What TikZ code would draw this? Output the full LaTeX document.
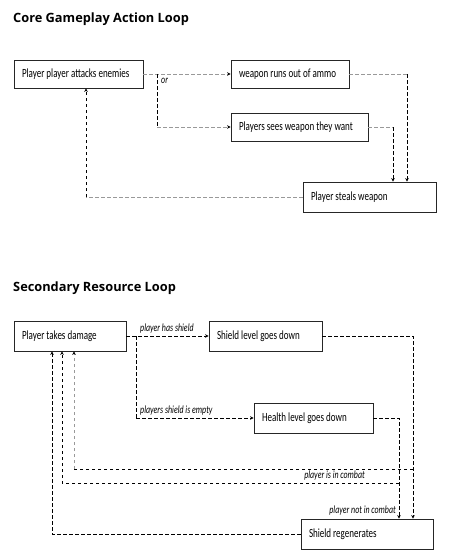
\documentclass[tikz,border=0pt]{standalone}
\usepackage{fontspec}
\usetikzlibrary{arrows.meta}
\newfontfamily\titlefont{Open Sans}
\newfontfamily\boxfont[FakeStretch=0.72]{Carlito}
\newcommand{\bxt}[2]{\makebox[#1][l]{#2}}
\tikzset{
  box/.style={draw=black!85, line width=0.8pt, inner xsep=8pt, inner ysep=0pt,
    font=\boxfont\fontsize{12.5}{14}\selectfont, minimum height=28pt},
  ttl/.style={anchor=base west, inner sep=0pt, font=\titlefont\bfseries\fontsize{12.8}{15}\selectfont},
  lbl/.style={inner sep=1pt, font=\boxfont\itshape\fontsize{11}{12}\selectfont},
  bline/.style={draw=black, line width=0.8pt, dash pattern=on 3.5pt off 2.5pt},
  gline/.style={draw=black!40, line width=0.8pt, dash pattern=on 3.5pt off 2.5pt},
  tip/.style={-{Stealth[length=3.5pt,width=3.5pt,color=black]}}
}
\begin{document}
\begin{tikzpicture}[x=1pt,y=-1pt]
\useasboundingbox (0,0) rectangle (450,560);
% Section 1
\node[ttl] (t1) at (13,22) {Core Gameplay Action Loop};
\node[box] (b1) at (78.5,74) {\bxt{113pt}{Player player attacks enemies}};
\node[box] (b2) at (290,74) {\bxt{102pt}{weapon runs out of ammo}};
\node[box] (b3) at (299.5,127) {\bxt{121pt}{Players sees weapon they want}};
\node[box, minimum height=30pt] (b4) at (369.5,197) {\bxt{117pt}{Player steals weapon}};
\coordinate (j1) at (157,74);
\coordinate (c2) at (407,74);
\coordinate (c3) at (393,127);
\coordinate (c4) at (86,197);
\draw[gline,tip] (b1.east) -- (b2.west);
\node[lbl, anchor=north west] (or) at (160,77) {or};
\draw[bline] (j1) -- (j1 |- b3.west);
\draw[gline,tip] (j1 |- b3.west) -- (b3.west);
\draw[gline] (b2.east) -- (c2);
\draw[bline,tip] (c2) -- (c2 |- b4.north);
\draw[gline] (b3.east) -- (c3);
\draw[bline,tip] (c3) -- (c3 |- b4.north);
\draw[gline] (b4.west) -- (c4);
\draw[bline,tip] (c4) -- (c4 |- b1.south);
% Section 2
\node[ttl] (t2) at (13,291) {Secondary Resource Loop};
\node[box, minimum height=30pt] (bA) at (70,336) {\bxt{96pt}{Player takes damage}};
\node[box, minimum height=30pt] (bB) at (265.5,336) {\bxt{97pt}{Shield level goes down}};
\node[box, minimum height=30pt] (bC) at (313.5,418) {\bxt{103pt}{Health level goes down}};
\node[box, minimum height=30pt] (bD) at (367,534) {\bxt{116pt}{Shield regenerates}};
\coordinate (k1) at (136,336);
\coordinate (r1) at (413,336);
\coordinate (r2) at (399,418);
\coordinate (h1) at (413,469);
\coordinate (h1l) at (74,469);
\coordinate (h2) at (399,483);
\coordinate (h2l) at (62,483);
\coordinate (h3) at (52,534);
\draw[bline,tip] (bA.east) -- (bB.west);
\node[lbl, anchor=south west] (l1) at (139,334) {player has shield};
\draw[bline] (k1) -- (k1 |- bC.west);
\draw[bline,tip] (k1 |- bC.west) -- (bC.west);
\node[lbl, anchor=south west] (l2) at (139,416) {players shield is empty};
\draw[bline,tip] (bB.east) -- (r1) -- (r1 |- bD.north);
\draw[bline,tip] (bC.east) -- (r2) -- (r2 |- bD.north);
\draw[bline] (h1) -- (h1l);
\draw[gline,tip] (h1l) -- (h1l |- bA.south);
\draw[bline,tip] (h2) -- (h2l) -- (h2l |- bA.south);
\node[lbl, anchor=south east] (l3) at (366,481) {player is in combat};
\draw[bline,tip] (bD.west) -- (h3) -- (h3 |- bA.south);
\node[lbl, anchor=south east] (l4) at (397,516) {player not in combat};
\end{tikzpicture}
\end{document}
